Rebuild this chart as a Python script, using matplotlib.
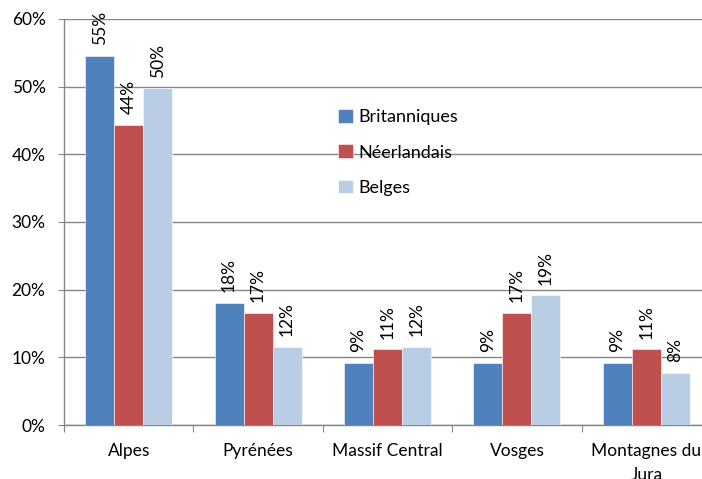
import matplotlib.pyplot as plt
import numpy as np

# massifs et parts par nationalité
categories = ['Alpes', 'Pyrénées', 'Massif Central', 'Vosges', 'Montagnes du\nJura']
series_names = ['Britanniques', 'Néerlandais', 'Belges']
britanniques = [0.546, 0.181, 0.092, 0.092, 0.092]
neerlandais = [0.444, 0.166, 0.112, 0.166, 0.112]
belges = [0.498, 0.116, 0.116, 0.192, 0.077]
colors = ['#4F81BD', '#C0504D', '#B9CDE5']

plt.rcParams['font.family'] = ['Lato', 'DejaVu Sans']
fs = 12.5
grey = '#868686'

fig = plt.figure(figsize=(7.02, 4.79), dpi=100)
ax = fig.add_axes([64 / 702, 54 / 479, 647 / 702, 406 / 479])

x = np.arange(len(categories))
w = 0.224
for i, (vals, name) in enumerate(zip([britanniques, neerlandais, belges], series_names)):
    pos = x + (i - 1) * w
    ax.bar(pos, vals, width=w, color=colors[i], label=name,
           edgecolor='white', linewidth=0.4, zorder=3)
    for xp, v in zip(pos, vals):
        ax.annotate(f'{v * 100:.0f}%', (xp, v), xytext=(0, 7.5),
                    textcoords='offset points', rotation=90,
                    ha='center', va='bottom', fontsize=fs, color='black',
                    annotation_clip=False)

ax.set_xlim(-0.5, len(categories) - 0.5)
ax.set_ylim(0, 0.6)
ax.set_yticks(np.arange(0, 0.61, 0.1))
ax.set_yticklabels([f'{int(round(t * 100))}%' for t in np.arange(0, 0.61, 0.1)], fontsize=fs)
ax.yaxis.grid(True, color=grey, linewidth=1, zorder=0)

ax.set_xticks(np.arange(-0.5, len(categories), 1.0))
ax.set_xticklabels([])
ax.set_xticks(x, minor=True)
ax.set_xticklabels(categories, minor=True, fontsize=fs, linespacing=1.6)
ax.tick_params(axis='x', which='major', length=5, color=grey, direction='out')
ax.tick_params(axis='x', which='minor', length=0, pad=13)
ax.tick_params(axis='y', length=4.3, color=grey, direction='out', pad=9)

for s in ['top', 'right']:
    ax.spines[s].set_visible(False)
for s in ['left', 'bottom']:
    ax.spines[s].set_color(grey)
    ax.spines[s].set_linewidth(1)

leg = ax.legend(loc='upper left', bbox_to_anchor=(267 / 647, 1 - 83 / 406),
                frameon=False, fontsize=13, handlelength=0.8, handleheight=0.8,
                handletextpad=0.3, labelspacing=1.05, borderaxespad=0)

fig.savefig('out.png', dpi=100)
